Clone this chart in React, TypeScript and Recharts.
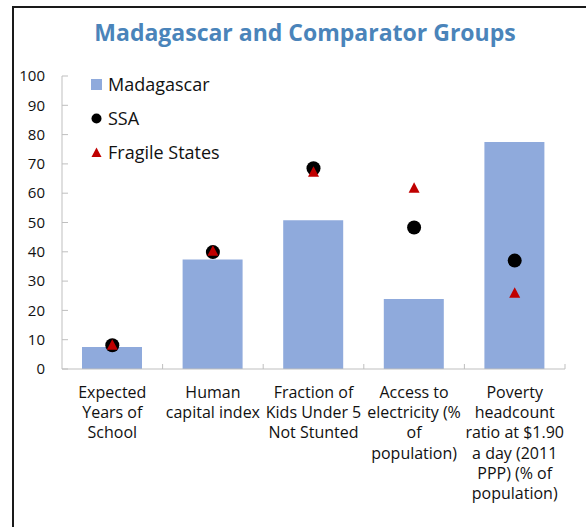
import React from 'react';
import { ComposedChart, Bar, Scatter, XAxis, YAxis, Legend } from 'recharts';

const categories = [
    'Expected Years of School',
    'Human capital index',
    'Fraction of Kids Under 5 Not Stunted',
    'Access to electricity (% of population)',
    'Poverty headcount ratio at $1.90 a day (2011 PPP) (% of population)',
];
const tickLines = [
    ['Expected', 'Years of', 'School'],
    ['Human', 'capital index'],
    ['Fraction of', 'Kids Under 5', 'Not Stunted'],
    ['Access to', 'electricity (%', 'of', 'population)'],
    ['Poverty', 'headcount', 'ratio at $1.90', 'a day (2011', 'PPP) (% of', 'population)'],
];
const madagascar = [7.5, 37.4, 50.8, 23.9, 77.5];
const ssa = [8.1, 39.9, 68.5, 48.3, 37.0];
const fragile = [8.3, 40.4, 67.3, 61.9, 26.0];
const yTicks = [0, 10, 20, 30, 40, 50, 60, 70, 80, 90, 100];

const data = categories.map((name, i) => ({
    name,
    madagascar: madagascar[i],
    ssa: ssa[i],
    fragile: fragile[i],
}));

const FONT = '"Open Sans", "Noto Sans", sans-serif';
const BAR = '#8FAADC';
const RED = '#C00000';
const AXIS = '#BFBFBF';

const YTick = (props: any) => {
    const { x, y, payload } = props;
    return (
        <g>
            <line x1={x + 17} x2={x + 23} y1={y} y2={y} stroke={AXIS} />
            <text x={x} y={y} dy="0.35em" textAnchor="end" fontSize={15} fill="#111" fontFamily={FONT}>
                {payload.value}
            </text>
        </g>
    );
};

const XTick = (props: any) => {
    const { x, y, payload, index } = props;
    const lines = tickLines[index] || [];
    const half = payload.offset || 50;
    return (
        <g>
            <line x1={x + half} x2={x + half} y1={y - 5} y2={y} stroke={AXIS} />
            <text textAnchor="middle" fontSize={16} fill="#111" fontFamily={FONT}>
                {lines.map((l, i) => (
                    <tspan key={i} x={x} y={y + 23 + i * 20.3} dy="0.35em">{l}</tspan>
                ))}
            </text>
        </g>
    );
};

const Triangle = (props: any) => {
    const { cx, cy } = props;
    return <polygon points={`${cx},${cy - 5.5} ${cx - 5.5},${cy + 5} ${cx + 5.5},${cy + 5}`} fill={RED} />;
};

const Dot = (props: any) => {
    const { cx, cy } = props;
    return <circle cx={cx} cy={cy} r={7} fill="#000" />;
};

const legendItems = [
    { label: 'Madagascar', marker: <rect x={0} y={0} width={11} height={11} fill={BAR} /> },
    { label: 'SSA', marker: <circle cx={5.5} cy={5.5} r={5} fill="#000" /> },
    { label: 'Fragile States', marker: <polygon points="5.5,0.5 0.5,10 10.5,10" fill={RED} /> },
];

const LegendBox = () => (
    <div style={{ fontFamily: FONT, fontSize: 18, color: '#111', textAlign: 'left' }}>
        {legendItems.map((it) => (
            <div key={it.label} style={{ display: 'flex', alignItems: 'center', height: 34 }}>
                <svg width={11} height={11} style={{ marginRight: 6 }}>{it.marker}</svg>
                <span>{it.label}</span>
            </div>
        ))}
    </div>
);

export default function App() {
    return (
        <div style={{ position: 'absolute', left: 0, top: 0, width: 586, height: 527, background: '#fff', overflow: 'hidden' }}>
            <div style={{ position: 'absolute', left: 12, top: 6, right: 0, bottom: 0, borderLeft: '2px solid #1a1a1a', borderTop: '2px solid #1a1a1a' }} />
            <div style={{ position: 'absolute', left: 0, width: 610, top: 16, textAlign: 'center', fontFamily: FONT, fontWeight: 700, fontSize: 23, color: '#4A84BA' }}>
                Madagascar and Comparator Groups
            </div>
            <div style={{ position: 'absolute', left: 0, top: 0 }}>
                <ComposedChart width={586} height={527} data={data} margin={{ top: 76, right: 21, bottom: 8, left: 12 }} barSize={60}>
                    <XAxis dataKey="name" interval={0} height={150} tick={<XTick />} tickLine={false} tickSize={0} tickMargin={0} axisLine={{ stroke: AXIS }} />
                    <YAxis domain={[0, 100]} ticks={yTicks} interval={0} width={50} tick={<YTick />} tickLine={false} tickSize={0} tickMargin={17} axisLine={{ stroke: AXIS }} />
                    <Legend layout="vertical" verticalAlign="middle" align="center" content={<LegendBox />} wrapperStyle={{ left: 91, top: 67, width: 200 }} />
                    <Bar dataKey="madagascar" name="Madagascar" fill={BAR} isAnimationActive={false} />
                    <Scatter dataKey="ssa" name="SSA" shape={<Dot />} isAnimationActive={false} />
                    <Scatter dataKey="fragile" name="Fragile States" shape={<Triangle />} isAnimationActive={false} />
                </ComposedChart>
            </div>
        </div>
    );
}
